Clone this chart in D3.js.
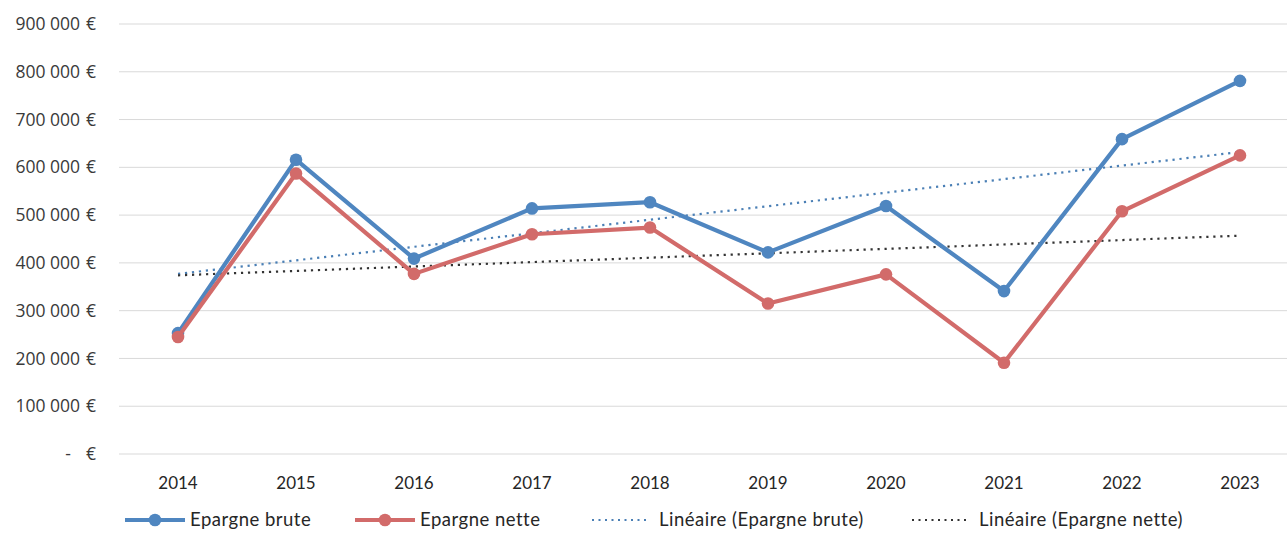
<!DOCTYPE html>
<html>
<head>
<meta charset="utf-8">
<script src="https://cdn.jsdelivr.net/npm/d3@7"></script>
<style>
  html, body { margin: 0; padding: 0; background: #ffffff; }
  svg { display: block; }
  .ylab { font-family: "Open Sans", "DejaVu Sans", sans-serif; font-size: 17.5px; fill: #3a3a3a; }
  .xlab { font-family: Lato, "Liberation Sans", sans-serif; font-size: 17px; fill: #262626; }
  .leg { font-family: Lato, "Liberation Sans", sans-serif; font-size: 18.5px; letter-spacing: 0.5px; fill: #262626; }
</style>
</head>
<body>
<svg id="chart" width="1287" height="547"></svg>
<script>
// Savings by year (euros)
const years = ["2014", "2015", "2016", "2017", "2018", "2019", "2020", "2021", "2022", "2023"];
const epargneBrute = [253000, 616000, 409000, 514000, 527000, 422000, 519000, 341000, 659000, 781000];
const epargneNette = [245000, 587000, 377000, 460000, 474000, 315000, 376000, 191000, 508000, 625000];
// Linear trend lines: values at first and last year
const trendYears = ["2014", "2023"];
const trendBrute = [377000, 632000];
const trendNette = [374000, 457000];
const yTicks = [0, 100000, 200000, 300000, 400000, 500000, 600000, 700000, 800000, 900000];

const colBrute = "#4f86c0";
const colNette = "#d26b6a";
const colTrendBrute = "#4a7fb5";
const colTrendNette = "#333333";

const svg = d3.select("#chart");

const x = d3.scalePoint().domain(years).range([178, 1240]);
const y = d3.scaleLinear().domain([0, 900000]).range([454, 24]);
const step = x.step();
const plotLeft = x(years[0]) - step / 2;
const plotRight = x(years[years.length - 1]) + step / 2;

// Horizontal gridlines
svg.append("g").selectAll("line").data(yTicks).join("line")
  .attr("x1", plotLeft).attr("x2", plotRight)
  .attr("y1", d => y(d)).attr("y2", d => y(d))
  .attr("stroke", "#d9d9d9").attr("stroke-width", 1);

// Y axis labels (accounting format)
const fmt = d => d === 0 ? "-" : d3.format(",")(d).replace(/,/g, " ");
const yl = svg.append("g");
yl.selectAll("text.v").data(yTicks).join("text")
  .attr("class", "ylab v")
  .attr("x", d => d === 0 ? 71 : 80)
  .attr("y", d => y(d))
  .attr("dy", "0.35em")
  .attr("text-anchor", "end")
  .attr("xml:space", "preserve")
  .text(d => fmt(d));
yl.selectAll("text.e").data(yTicks).join("text")
  .attr("class", "ylab e")
  .attr("x", 96)
  .attr("y", d => y(d))
  .attr("dy", "0.35em")
  .attr("text-anchor", "end")
  .text("€");

// X axis labels
svg.append("g").selectAll("text").data(years).join("text")
  .attr("class", "xlab")
  .attr("x", d => x(d))
  .attr("y", 483)
  .attr("dy", "0.35em")
  .attr("text-anchor", "middle")
  .text(d => d);

// Trend lines
const trendLine = d3.line().x(d => x(d[0])).y(d => y(d[1]));
svg.append("path")
  .datum(trendYears.map((yr, i) => [yr, trendBrute[i]]))
  .attr("d", trendLine)
  .attr("fill", "none").attr("stroke", colTrendBrute)
  .attr("stroke-width", 2.2).attr("stroke-dasharray", "2.2,4.8");
svg.append("path")
  .datum(trendYears.map((yr, i) => [yr, trendNette[i]]))
  .attr("d", trendLine)
  .attr("fill", "none").attr("stroke", colTrendNette)
  .attr("stroke-width", 2.2).attr("stroke-dasharray", "2.2,4.8");

// Series lines with markers
const line = d3.line().x((d, i) => x(years[i])).y(d => y(d));
function drawSeries(values, color) {
  svg.append("path").datum(values)
    .attr("d", line)
    .attr("fill", "none").attr("stroke", color)
    .attr("stroke-width", 4.2).attr("stroke-linejoin", "round");
  svg.append("g").selectAll("circle").data(values).join("circle")
    .attr("cx", (d, i) => x(years[i])).attr("cy", d => y(d))
    .attr("r", 6.3).attr("fill", color);
}
drawSeries(epargneBrute, colBrute);
drawSeries(epargneNette, colNette);

// Legend
const legendItems = [
  { label: "Epargne brute", color: colBrute, type: "marker", x0: 125 },
  { label: "Epargne nette", color: colNette, type: "marker", x0: 355 },
  { label: "Linéaire (Epargne brute)", color: colTrendBrute, type: "dot", x0: 592 },
  { label: "Linéaire (Epargne nette)", color: colTrendNette, type: "dot", x0: 912 }
];
const ly = 520;
const lg = svg.append("g");
legendItems.forEach(it => {
  if (it.type === "marker") {
    lg.append("line").attr("x1", it.x0).attr("x2", it.x0 + 60)
      .attr("y1", ly).attr("y2", ly)
      .attr("stroke", it.color).attr("stroke-width", 4.2);
    lg.append("circle").attr("cx", it.x0 + 30).attr("cy", ly).attr("r", 6.3).attr("fill", it.color);
    lg.append("text").attr("class", "leg").attr("x", it.x0 + 65).attr("y", ly).attr("dy", "0.35em").text(it.label);
  } else {
    lg.append("line").attr("x1", it.x0).attr("x2", it.x0 + 58)
      .attr("y1", ly).attr("y2", ly)
      .attr("stroke", it.color).attr("stroke-width", 2)
      .attr("stroke-dasharray", "2,4.5");
    lg.append("text").attr("class", "leg").attr("x", it.x0 + 67).attr("y", ly).attr("dy", "0.35em").text(it.label);
  }
});
</script>
</body>
</html>
